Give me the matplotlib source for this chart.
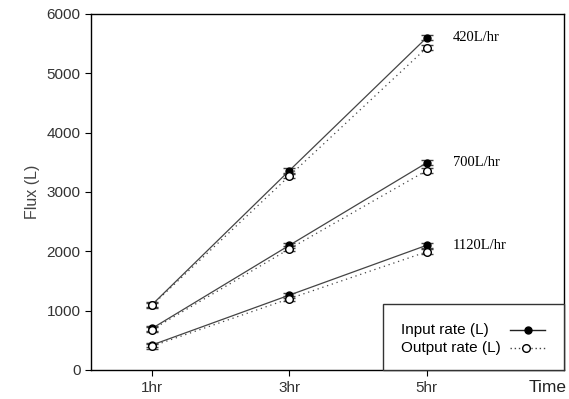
import matplotlib.pyplot as plt
from matplotlib.patches import Rectangle
from matplotlib.lines import Line2D

plt.rcParams['font.family'] = ['Liberation Sans', 'DejaVu Sans']

# Data
times = [1, 3, 5]
time_labels = ["1hr", "3hr", "5hr"]
rates = ["420L/hr", "700L/hr", "1120L/hr"]

input_420 = [1100, 3360, 5600]
output_420 = [1090, 3270, 5430]
input_700 = [700, 2100, 3490]
output_700 = [680, 2040, 3360]
input_1120 = [420, 1260, 2100]
output_1120 = [400, 1200, 1990]
err = [40, 40, 40]

inputs = [input_420, input_700, input_1120]
outputs = [output_420, output_700, output_1120]

fig = plt.figure(figsize=(5.69, 3.99), dpi=100)
ax = fig.add_axes([0.16, 0.073, 0.831, 0.892])

for i, (inp, out) in enumerate(zip(inputs, outputs)):
    ax.errorbar(times, inp, yerr=err, color="#444444", lw=0.9, marker="o",
                ms=5, mfc="black", mec="black", capsize=4, elinewidth=0.8)
    ax.errorbar(times, out, yerr=err, color="#444444", lw=0.9, ls=(0, (1, 3)),
                marker="o", ms=5.5, mfc="white", mec="black", mew=1.0,
                capsize=4, elinewidth=0.8)
    ax.text(5.38, inp[-1], rates[i], family="Liberation Serif", fontsize=10.5,
            va="center", ha="left")

ax.set_xlim(0.11, 7.0)
ax.set_ylim(0, 6000)
ax.set_xticks(times)
ax.set_xticklabels(time_labels)
ax.set_yticks(range(0, 6001, 1000))
ax.tick_params(direction="out", labelsize=11, length=4, labelcolor="#333333")
ax.tick_params(axis="x", pad=4)
ax.set_ylabel("Flux (L)", fontsize=11.5, color="#444444", labelpad=5)
fig.text(0.995, 0.028, "Time", ha="right", va="center", fontsize=12.5,
         color="#222222")

for s in ax.spines.values():
    s.set_linewidth(1.0)

# legend box drawn by hand: labels left, line samples right
tr = ax.transAxes
ax.add_patch(Rectangle((0.617, 0.0), 0.383, 0.185, transform=tr, fill=True,
                       facecolor="white", edgecolor="#333333", lw=1.0,
                       zorder=5, clip_on=False))
ax.text(0.655, 0.113, "Input rate (L)", transform=tr, fontsize=11,
        va="center", ha="left", zorder=6)
ax.text(0.655, 0.062, "Output rate (L)", transform=tr, fontsize=11,
        va="center", ha="left", zorder=6)
ax.add_line(Line2D([0.885, 0.96], [0.113, 0.113], transform=tr, color="#222222",
                   lw=1.0, zorder=6))
ax.add_line(Line2D([0.925], [0.113], transform=tr, marker="o", ms=5,
                   color="black", zorder=7))
ax.add_line(Line2D([0.885, 0.96], [0.062, 0.062], transform=tr, color="#444444",
                   lw=1.0, ls=(0, (1, 2)), zorder=6))
ax.add_line(Line2D([0.92], [0.062], transform=tr, marker="o", ms=5.5,
                   mfc="white", mec="black", zorder=7))

fig.savefig("out.png", dpi=100)
